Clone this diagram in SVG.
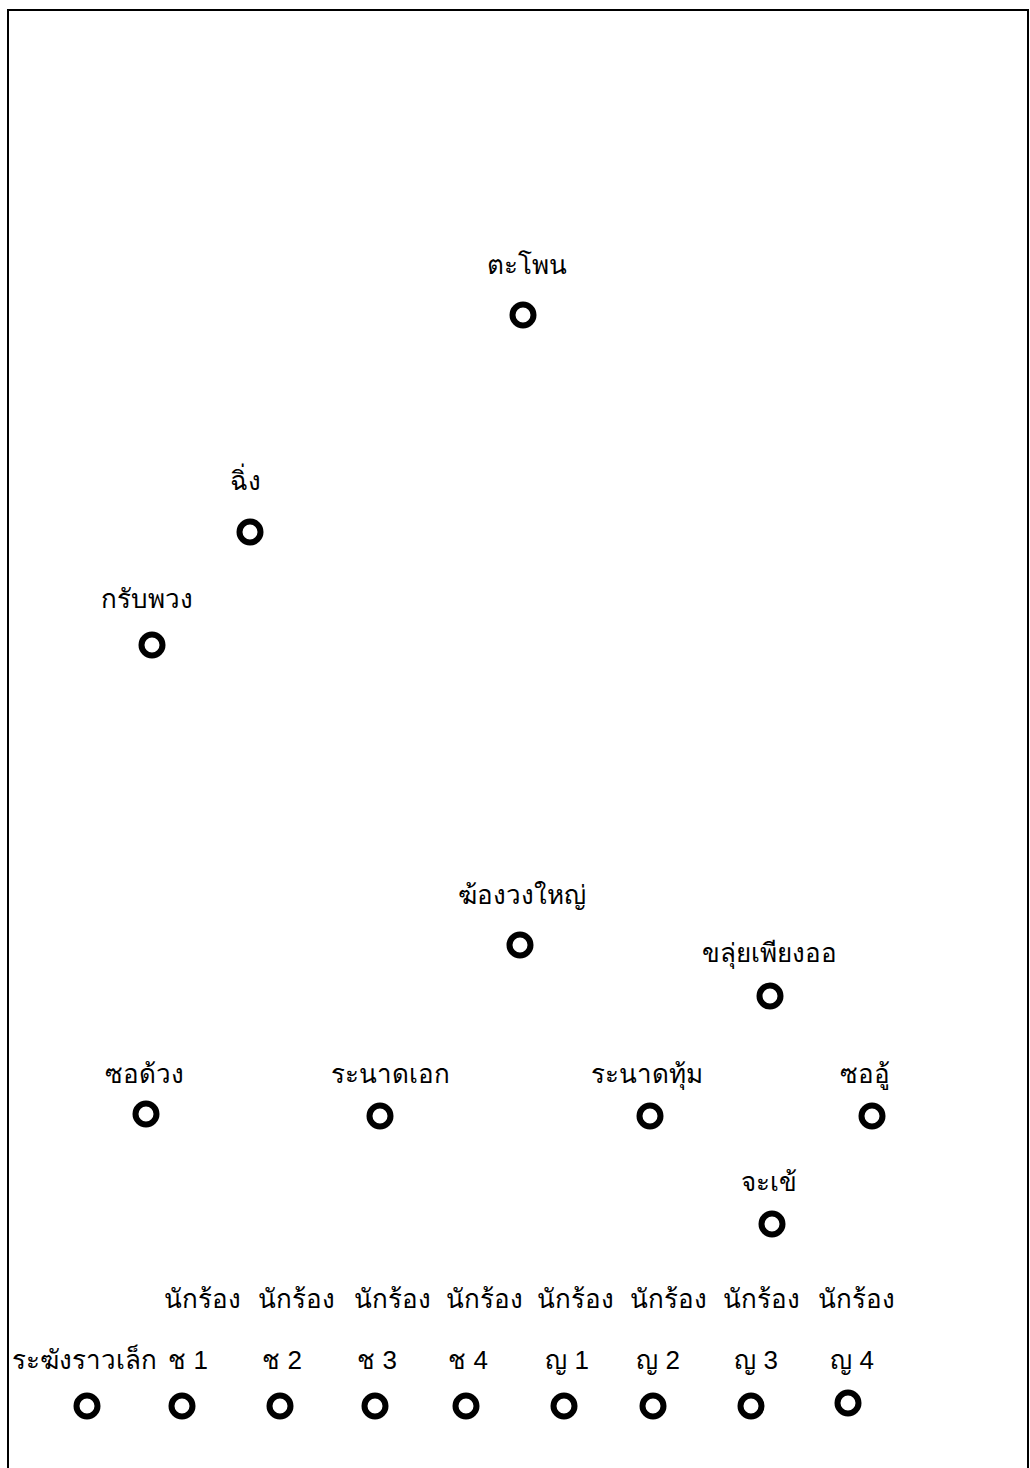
<svg xmlns="http://www.w3.org/2000/svg" width="1030" height="1468" viewBox="0 0 1030 1468">
<style>
.lbl{font-family:"Liberation Sans","Noto Sans","DejaVu Sans",sans-serif;font-size:26px;fill:#000;text-anchor:middle}
.dot{fill:none;stroke:#000;stroke-width:6}
</style>
<rect width="1030" height="1468" fill="#fff"/>
<path d="M8,1470 V10 H1028 V1470" fill="none" stroke="#000" stroke-width="2"/>
<g id="connectors"/>
<g id="n-taphon"><text class="lbl" x="527" y="274">ตะโพน</text><circle class="dot" cx="523" cy="315" r="10.5"/></g>
<g id="n-ching"><text class="lbl" x="245" y="490">ฉิ่ง</text><circle class="dot" cx="250" cy="532" r="10.5"/></g>
<g id="n-krap"><text class="lbl" x="147" y="608">กรับพวง</text><circle class="dot" cx="152" cy="645" r="10.5"/></g>
<g id="n-khong"><text class="lbl" x="522" y="904">ฆ้องวงใหญ่</text><circle class="dot" cx="520" cy="945" r="10.5"/></g>
<g id="n-khlui"><text class="lbl" x="769" y="962">ขลุ่ยเพียงออ</text><circle class="dot" cx="770" cy="996" r="10.5"/></g>
<g id="n-sodueng"><text class="lbl" x="144" y="1083">ซอด้วง</text><circle class="dot" cx="146" cy="1114" r="10.5"/></g>
<g id="n-ranat-ek"><text class="lbl" x="390" y="1083">ระนาดเอก</text><circle class="dot" cx="380" cy="1116" r="10.5"/></g>
<g id="n-ranat-thum"><text class="lbl" x="647" y="1083">ระนาดทุ้ม</text><circle class="dot" cx="650" cy="1116" r="10.5"/></g>
<g id="n-so-u"><text class="lbl" x="865" y="1083">ซออู้</text><circle class="dot" cx="872" cy="1116" r="10.5"/></g>
<g id="n-chakhe"><text class="lbl" x="769" y="1191">จะเข้</text><circle class="dot" cx="772" cy="1224" r="10.5"/></g>
<g id="n-rakhang"><text class="lbl" x="84" y="1369">ระฆังราวเล็ก</text><circle class="dot" cx="87" cy="1406" r="10.5"/></g>
<g id="n-m1"><text class="lbl" x="202" y="1308">นักร้อง</text><text class="lbl" x="188" y="1369">ช 1</text><circle class="dot" cx="182" cy="1406" r="10.5"/></g>
<g id="n-m2"><text class="lbl" x="296" y="1308">นักร้อง</text><text class="lbl" x="282" y="1369">ช 2</text><circle class="dot" cx="280" cy="1406" r="10.5"/></g>
<g id="n-m3"><text class="lbl" x="392" y="1308">นักร้อง</text><text class="lbl" x="377" y="1369">ช 3</text><circle class="dot" cx="375" cy="1406" r="10.5"/></g>
<g id="n-m4"><text class="lbl" x="484" y="1308">นักร้อง</text><text class="lbl" x="468" y="1369">ช 4</text><circle class="dot" cx="466" cy="1406" r="10.5"/></g>
<g id="n-f1"><text class="lbl" x="575" y="1308">นักร้อง</text><text class="lbl" x="567" y="1369">ญ 1</text><circle class="dot" cx="564" cy="1406" r="10.5"/></g>
<g id="n-f2"><text class="lbl" x="668" y="1308">นักร้อง</text><text class="lbl" x="658" y="1369">ญ 2</text><circle class="dot" cx="653" cy="1406" r="10.5"/></g>
<g id="n-f3"><text class="lbl" x="761" y="1308">นักร้อง</text><text class="lbl" x="756" y="1369">ญ 3</text><circle class="dot" cx="751" cy="1406" r="10.5"/></g>
<g id="n-f4"><text class="lbl" x="856" y="1308">นักร้อง</text><text class="lbl" x="852" y="1369">ญ 4</text><circle class="dot" cx="848" cy="1403" r="10.5"/></g>
</svg>
